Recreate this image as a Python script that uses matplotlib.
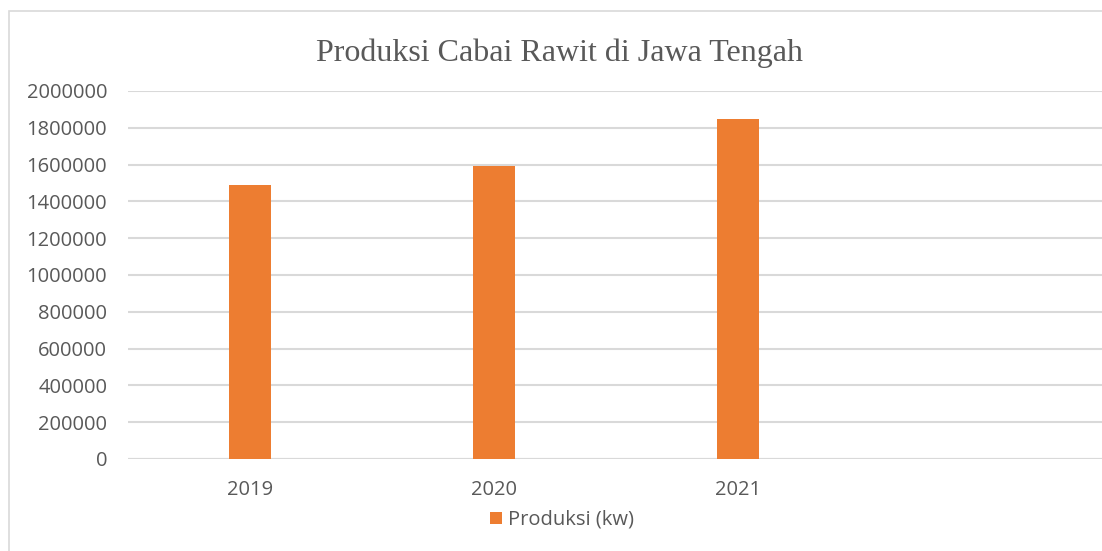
import numpy as np
import matplotlib
matplotlib.use("Agg")
import matplotlib.pyplot as plt
from matplotlib.patches import Rectangle

# data (4th category slot is empty in the original)
categories = ['2019', '2020', '2021', '']
produksi = [1490000, 1591000, 1850000, np.nan]
y_ticks = [0, 200000, 400000, 600000, 800000, 1000000,
           1200000, 1400000, 1600000, 1800000, 2000000]

bar_color = '#ED7D31'
grid_color = '#D9D9D9'
text_color = '#595959'

fig = plt.figure(figsize=(11.02, 5.51), dpi=100)
W, H = 1102, 551

# chart border (light grey frame, right/bottom run off the picture)
fig.patches.append(Rectangle((9 / W, -0.05), 1.1, 1 - 11 / H + 0.05,
                             transform=fig.transFigure, fill=False,
                             edgecolor='#D9D9D9', linewidth=1.2))

ax = fig.add_axes([128 / W, (H - 459) / H, (1104 - 128) / W, (459 - 91) / H])

x = np.arange(len(categories))
ax.bar(x, produksi, width=0.17, color=bar_color, zorder=3,
       label='Produksi (kw)')

ax.set_xlim(-0.5, len(categories) - 0.5)
ax.set_ylim(0, 2000000)
ax.set_yticks(y_ticks)
ax.set_yticklabels([str(v) for v in y_ticks])
ax.set_xticks(x)
ax.set_xticklabels(categories)

ax.yaxis.grid(True, color=grid_color, linewidth=1.5, zorder=0)
ax.set_axisbelow(True)
for side in ['top', 'right', 'left', 'bottom']:
    ax.spines[side].set_visible(False)
ax.axhline(0, color=grid_color, linewidth=1.5, zorder=1)

ax.tick_params(axis='both', length=0, labelsize=14.5, labelcolor=text_color,
               labelfontfamily='Open Sans')
ax.tick_params(axis='y', pad=15)
ax.tick_params(axis='x', pad=15)

fig.text(560 / W, 1 - 53 / H, 'Produksi Cabai Rawit di Jawa Tengah',
         ha='center', va='center', fontsize=23, color=text_color,
         family='Liberation Serif')

leg = fig.legend(loc='center', bbox_to_anchor=(562 / W, 1 - 520 / H),
                 frameon=False, handlelength=0.6, handleheight=0.6,
                 handletextpad=0.3,
                 prop={'family': 'Open Sans', 'size': 14.5})
for t in leg.get_texts():
    t.set_color(text_color)

fig.savefig('out.png', dpi=100)
